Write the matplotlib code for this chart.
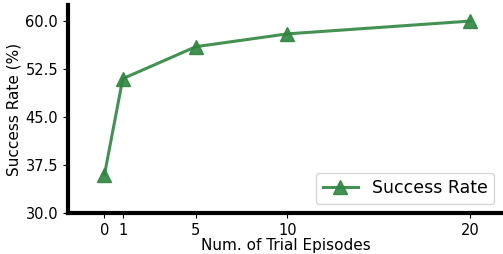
import matplotlib
matplotlib.use("Agg")
import matplotlib.pyplot as plt

episodes = [0, 1, 5, 10, 20]
success = [36.0, 51.0, 56.0, 58.0, 60.0]
yticks = [30.0, 37.5, 45.0, 52.5, 60.0]

fig = plt.figure(figsize=(5.03, 2.54), dpi=100)
ax = fig.add_axes([0.135, 0.161, 0.865, 0.819])

ax.plot(episodes, success, color='#2e8540', linewidth=2.2, marker='^',
        markersize=10, alpha=0.9, label='Success Rate')

ax.set_xlim(-2.0, 21.8)
ax.set_ylim(30, 62.5)
ax.set_xticks(episodes)
ax.set_yticks(yticks)
ax.set_yticklabels(['%.1f' % v for v in yticks])
ax.tick_params(labelsize=10.5)

ax.spines['top'].set_visible(False)
ax.spines['right'].set_visible(False)
ax.spines['left'].set_linewidth(3)
ax.spines['bottom'].set_linewidth(3)

ax.set_xlabel('Num. of Trial Episodes', fontsize=11, labelpad=0)
ax.set_ylabel('Success Rate (%)', fontsize=11, labelpad=3)
ax.legend(loc='lower right', fontsize=12.5)

fig.savefig('out.png', dpi=100)
